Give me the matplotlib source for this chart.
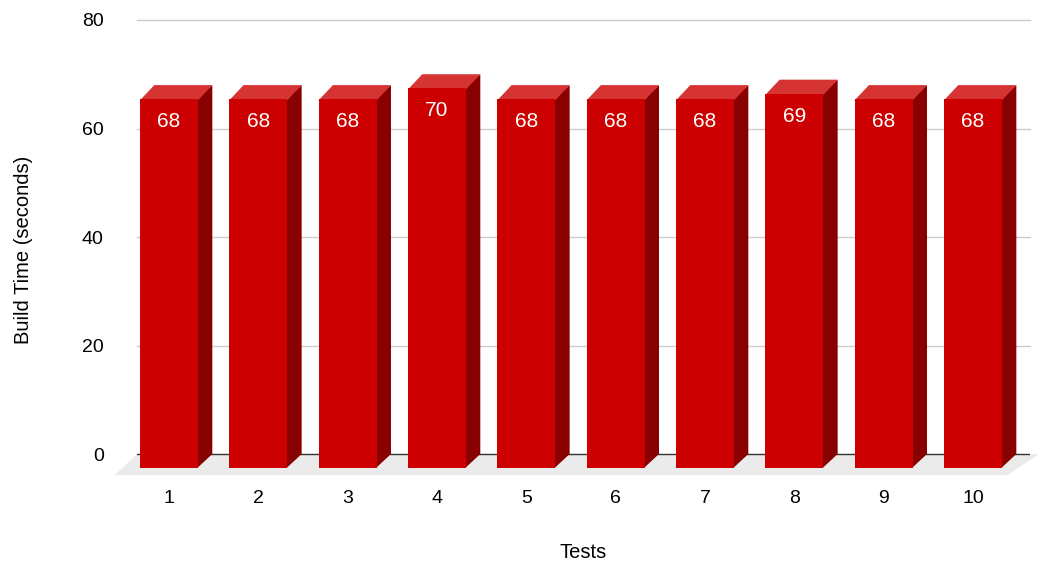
import matplotlib.pyplot as plt
from matplotlib.patches import Polygon

tests = ['1', '2', '3', '4', '5', '6', '7', '8', '9', '10']
build_times = [68, 68, 68, 70, 68, 68, 68, 69, 68, 68]
yticks = [0, 20, 40, 60, 80]

plt.rcParams['font.family'] = ['Liberation Sans', 'DejaVu Sans']

fig = plt.figure(figsize=(10.38, 5.63), dpi=100)
ax = fig.add_axes([137 / 1038, 1 - 480 / 563, (1030 - 137) / 1038, 460 / 563])

xs = list(range(1, len(tests) + 1))
w = 0.65      # front face width (category units)
dx = 0.16     # depth offset, x
dy = 2.6      # depth offset, y (data units)
front = '#cc0000'
top = '#d63333'
side = '#880000'

ax.set_xlim(0.642, 10.638)
ax.set_ylim(-4.79, 80)

# gridlines
for t in yticks[1:]:
    ax.axhline(t, color='#cccccc', lw=1, zorder=0, clip_on=False)

# floor
fx, fy = 0.25, 3.9
floor = Polygon([(0.642 - fx, -fy), (10.638 - fx, -fy), (10.638 + 0.1, 0), (0.642, 0)],
                closed=True, fc='#ebebeb', ec='none', zorder=1, clip_on=False)
ax.add_patch(floor)
ax.axhline(0, color='#333333', lw=1, zorder=1.5)

for x, v in zip(xs, build_times):
    ax.add_patch(Polygon([(x + w / 2 - 0.01, -dy), (x + w / 2 + dx, 0),
                          (x + w / 2 + dx, v), (x + w / 2 - 0.01, v - dy)],
                         closed=True, fc=side, ec='none', zorder=2.5))
    ax.add_patch(Polygon([(x - w / 2, v - dy - 0.2), (x + w / 2, v - dy - 0.2),
                          (x + w / 2 + dx, v), (x - w / 2 + dx, v)],
                         closed=True, fc=top, ec='none', zorder=2.5))
    ax.bar(x, v, width=w, bottom=-dy, color=front, lw=0, zorder=3)
    ax.text(x, v - dy - 4.1, str(v), ha='center', va='center', color='white',
            fontsize=15, zorder=4)

ax.set_xticks(xs)
ax.set_xticklabels(tests, fontsize=14)
ax.set_yticks(yticks)
ax.set_yticklabels([str(t) for t in yticks], fontsize=14)
ax.tick_params(length=0)
ax.tick_params(axis='x', pad=7.5)
ax.tick_params(axis='y', pad=24)
for s in ax.spines.values():
    s.set_visible(False)

ax.set_xlabel('Tests', fontsize=14.5, labelpad=25.5)
ax.set_ylabel('Build Time (seconds)', fontsize=14.5, labelpad=35)

fig.savefig('out.png', dpi=100)
